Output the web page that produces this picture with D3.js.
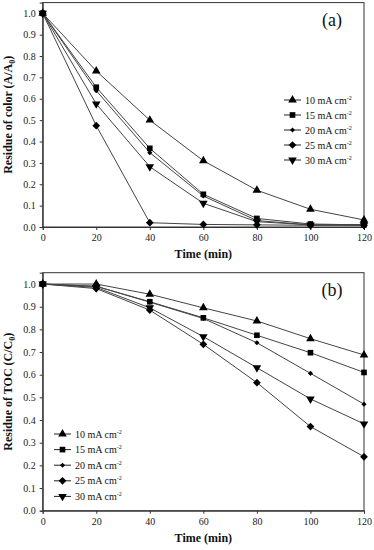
<!DOCTYPE html>
<html>
<head>
<meta charset="utf-8">
<script src="https://cdn.jsdelivr.net/npm/d3@7"></script>
<style>
  body { margin: 0; background: #fff; }
  svg, svg text { font-family: 'Liberation Serif', 'Times New Roman', serif; }
</style>
</head>
<body>
<div class="container"></div>
<script>
// time points (min)
const times = [0, 20, 40, 60, 80, 100, 120];
const currents = ["10", "15", "20", "25", "30"];
const xTicks = [0, 20, 40, 60, 80, 100, 120];
const yTicks = [0, 0.1, 0.2, 0.3, 0.4, 0.5, 0.6, 0.7, 0.8, 0.9, 1.0];

// (a) residue of color A/A0
const color10 = [1.0, 0.73, 0.50, 0.31, 0.172, 0.083, 0.033];
const color15 = [1.0, 0.654, 0.368, 0.153, 0.04, 0.014, 0.01];
const color20 = [1.0, 0.638, 0.348, 0.145, 0.03, 0.01, 0.01];
const color25 = [1.0, 0.474, 0.02, 0.012, 0.01, 0.008, 0.008];
const color30 = [1.0, 0.576, 0.282, 0.111, 0.025, 0.01, 0.01];

// (b) residue of TOC C/C0
const toc10 = [1.0, 1.0, 0.955, 0.895, 0.837, 0.759, 0.687];
const toc15 = [1.0, 0.99, 0.922, 0.851, 0.774, 0.697, 0.61];
const toc20 = [1.0, 0.99, 0.92, 0.848, 0.741, 0.606, 0.47];
const toc25 = [1.0, 0.98, 0.885, 0.734, 0.565, 0.371, 0.238];
const toc30 = [1.0, 0.985, 0.895, 0.768, 0.631, 0.493, 0.383];

const w = 374, h = 550;
const left = 42.7, right = 364;
const serif = "'Liberation Serif', 'Times New Roman', serif";

const symbols = [
    {type: d3.symbolTriangle, size: 32, rot: 0},
    {type: d3.symbolSquare, size: 32, rot: 0},
    {type: d3.symbolSquare, size: 13, rot: 45},
    {type: d3.symbolSquare, size: 30, rot: 45},
    {type: d3.symbolTriangle, size: 32, rot: 180}
];

const svg = d3.select(".container")
    .append("svg")
    .attr("width", w)
    .attr("height", h)
    .style("background", "white");

const drawPanel = (cfg) => {
    const xScale = d3.scaleLinear().domain([0, 120]).range([left, right]);
    const yScale = d3.scaleLinear().domain([0, 1.05]).range([cfg.bottom, cfg.top]);
    const g = svg.append("g");

    // frame
    g.append("rect")
        .attr("x", left).attr("y", cfg.top)
        .attr("width", right - left).attr("height", cfg.bottom - cfg.top)
        .attr("fill", "none").attr("stroke", "#333").attr("stroke-width", 1);

    const xAxis = d3.axisBottom(xScale).tickValues(xTicks).tickSize(3).tickPadding(4).tickFormat(d3.format("d"));
    const yAxis = d3.axisLeft(yScale).tickValues(yTicks).tickSize(3).tickPadding(4).tickFormat(d3.format(".1f"));

    const gx = g.append("g")
        .attr("transform", "translate(0," + cfg.bottom + ")")
        .call(xAxis);
    const gy = g.append("g")
        .attr("transform", "translate(" + left + ",0)")
        .call(yAxis);
    [gx, gy].forEach(a => {
        a.attr("font-family", serif).attr("font-size", 10);
        a.select(".domain").attr("stroke", "#333");
        a.selectAll(".tick line").attr("stroke", "#333");
        a.selectAll("text").attr("fill", "#222");
    });

    const line = d3.line()
        .x((d, i) => xScale(times[i]))
        .y(d => yScale(d));

    cfg.series.forEach((s, k) => {
        g.append("path")
            .datum(s)
            .attr("d", line)
            .attr("fill", "none")
            .attr("stroke", "#444")
            .attr("stroke-width", 1);
    });
    cfg.series.forEach((s, k) => {
        const sym = symbols[k];
        g.selectAll(".m" + k)
            .data(s)
            .enter()
            .append("path")
            .attr("d", d3.symbol().type(sym.type).size(sym.size))
            .attr("transform", (d, i) => "translate(" + xScale(times[i]) + "," + yScale(d) + ") rotate(" + sym.rot + ")")
            .attr("fill", "#000");
    });

    // axis titles
    g.append("text")
        .attr("x", (left + right) / 2)
        .attr("y", cfg.bottom + 31)
        .attr("text-anchor", "middle")
        .attr("font-family", serif)
        .attr("font-size", 12)
        .attr("font-weight", "bold")
        .attr("fill", "#111")
        .text("Time (min)");

    const yt = g.append("text")
        .attr("transform", "translate(12," + (cfg.top + cfg.bottom) / 2 + ") rotate(-90)")
        .attr("text-anchor", "middle")
        .attr("font-family", serif)
        .attr("font-size", 12)
        .attr("font-weight", "bold")
        .attr("fill", "#111");
    yt.append("tspan").text(cfg.ylabel[0]);
    yt.append("tspan").attr("dy", 3).attr("font-size", 8).text("0");
    yt.append("tspan").attr("dy", -3).text(")");

    // panel tag
    g.append("text")
        .attr("x", 332).attr("y", cfg.top + 23)
        .attr("text-anchor", "middle")
        .attr("font-family", serif)
        .attr("font-size", 18)
        .attr("fill", "#111")
        .text(cfg.tag);

    // legend
    const lg = g.append("g").attr("transform", "translate(" + cfg.legX + "," + cfg.legY + ")");
    currents.forEach((c, k) => {
        const row = lg.append("g").attr("transform", "translate(0," + k * cfg.legStep + ")");
        row.append("line").attr("x1", 0).attr("x2", 17).attr("y1", 0).attr("y2", 0)
            .attr("stroke", "#222").attr("stroke-width", 1);
        row.append("path")
            .attr("d", d3.symbol().type(symbols[k].type).size(symbols[k].size))
            .attr("transform", "translate(8.5,0) rotate(" + symbols[k].rot + ")")
            .attr("fill", "#000");
        const t = row.append("text").attr("x", 21).attr("y", 3.5)
            .attr("font-family", serif)
            .attr("font-size", 10).attr("fill", "#111");
        t.append("tspan").text(c + " mA cm");
        t.append("tspan").attr("dy", -4).attr("font-size", 6).text("-2");
    });
};

drawPanel({
    top: 2.6, bottom: 227,
    series: [color10, color15, color20, color25, color30],
    ylabel: ["Residue of color (A/A"],
    tag: "(a)",
    legX: 284, legY: 100, legStep: 15
});

drawPanel({
    top: 272.7, bottom: 510.7,
    series: [toc10, toc15, toc20, toc25, toc30],
    ylabel: ["Residue of TOC (C/C"],
    tag: "(b)",
    legX: 54, legY: 434, legStep: 15.6
});
</script>
</body>
</html>
